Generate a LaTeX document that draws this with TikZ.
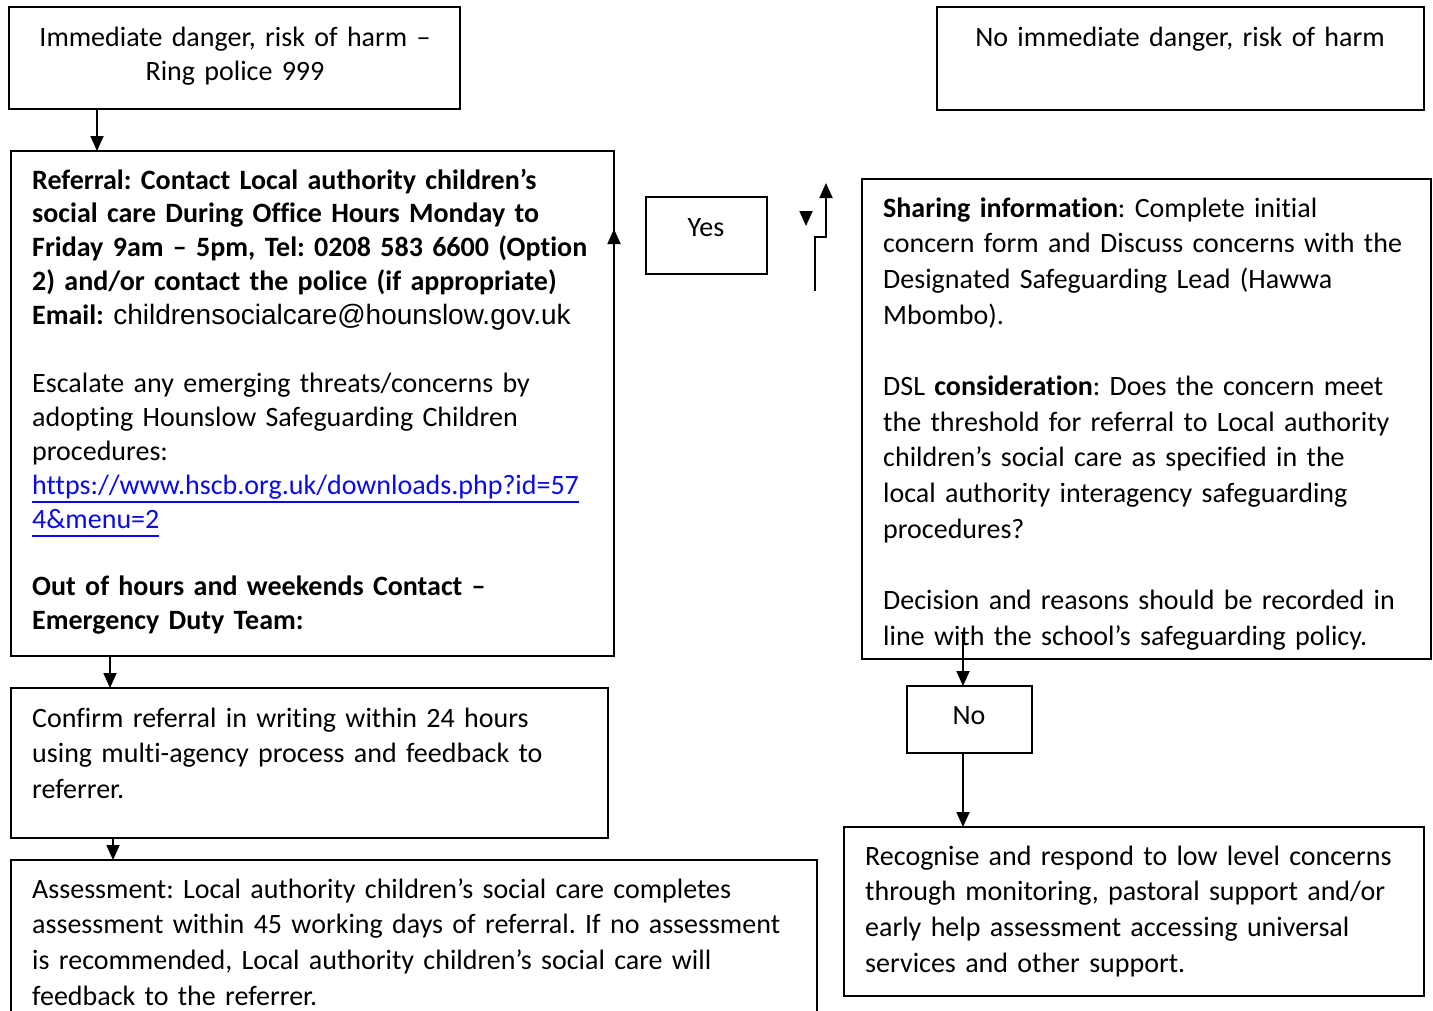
\documentclass[tikz,border=0pt]{standalone}
\usepackage{fontspec}
\setmainfont{Carlito}[Ligatures=NoCommon]
\newfontfamily\emailfont{Liberation Sans}
\usetikzlibrary{arrows.meta}
\definecolor{linkblue}{RGB}{10,10,230}
\newcommand{\linkul}[1]{\setbox0\hbox{#1}\rlap{\rule[-9pt]{\wd0}{1.8pt}}\box0}
\frenchspacing

\begin{document}
\begin{tikzpicture}[x=1pt, y=-1pt,
	box/.style = {draw, line width=1.8pt, outer sep=0pt, inner sep=0pt, anchor=north west},
	txt/.style = {anchor=base west, inner sep=0pt, align=left, font=\fontsize{28}{35.7}\selectfont},
	ctxt/.style = {anchor=base, inner sep=0pt, align=center, font=\fontsize{28}{34.4}\selectfont},
	arr/.style = {line width=1.8pt, -{Triangle[width=13pt, length=15pt]}}]
		\useasboundingbox (0,0) rectangle (1433,1010);
		
		% boxes
		\node [box, minimum width=451pt, minimum height=102pt] (danger) at (9,7) {};
		\node [box, minimum width=487pt, minimum height=103pt] (nodanger) at (937,7) {};
		\node [box, minimum width=603pt, minimum height=505pt] (referral) at (11,151) {};
		\node [box, minimum width=121pt, minimum height=77pt] (yes) at (646,197) {};
		\node [box, minimum width=569pt, minimum height=480pt] (sharing) at (862,179) {};
		\node [box, minimum width=125pt, minimum height=67pt] (no) at (907,686) {};
		\node [box, minimum width=597pt, minimum height=150pt] (confirm) at (11,688) {};
		\node [box, minimum width=806pt, minimum height=170pt] (assess) at (11,860) {};
		\node [box, minimum width=580pt, minimum height=169pt] (recognise) at (844,827) {};
		
		% texts
		\node [ctxt, text width=440pt] (danger-text) at (235,46) {Immediate danger, risk of harm --\\Ring police 999};
		\node [ctxt, text width=480pt] (nodanger-text) at (1180,46) {No immediate danger, risk of harm};
		\node [ctxt, text width=110pt] (yes-text) at (706,236) {Yes};
		\node [ctxt, text width=110pt] (no-text) at (969,724) {No};
		
		\node [txt, text width=590pt, font=\fontsize{28}{33.9}\selectfont] (referral-text) at (32,189) {%
			\textbf{Referral: Contact Local authority children’s}\\
			\textbf{social care During Office Hours Monday to}\\
			\textbf{Friday 9am -- 5pm, Tel: 0208 583 6600 (Option}\\
			\textbf{2) and/or contact the police (if appropriate)}\\
			\textbf{Email:} {\emailfont childrensocialcare@hounslow.gov.uk}\\[33.9pt]
			Escalate any emerging threats/concerns by\\
			adopting Hounslow Safeguarding Children\\
			procedures:\\
			\textcolor{linkblue}{\linkul{https://www.hscb.org.uk/downloads.php?id=57}}\\
			\textcolor{linkblue}{\linkul{4\&menu=2}}\\[33.9pt]
			\textbf{Out of hours and weekends Contact --}\\
			\textbf{Emergency Duty Team:}};
		
		\node [txt, text width=560pt] (sharing-text) at (883,217) {%
			\textbf{Sharing information}: Complete initial\\
			concern form and Discuss concerns with the\\
			Designated Safeguarding Lead (Hawwa\\
			Mbombo).\\[35.7pt]
			DSL \textbf{consideration}: Does the concern meet\\
			the threshold for referral to Local authority\\
			children’s social care as specified in the\\
			local authority interagency safeguarding\\
			procedures?\\[35.7pt]
			Decision and reasons should be recorded in\\
			line with the school’s safeguarding policy.};
		
		\node [txt, text width=580pt] (confirm-text) at (32,727) {%
			Confirm referral in writing within 24 hours\\
			using multi-agency process and feedback to\\
			referrer.};
		
		\node [txt, text width=790pt] (assess-text) at (32,898) {%
			Assessment: Local authority children’s social care completes\\
			assessment within 45 working days of referral. If no assessment\\
			is recommended, Local authority children’s social care will\\
			feedback to the referrer.};
		
		\node [txt, text width=570pt] (recognise-text) at (865,865) {%
			Recognise and respond to low level concerns\\
			through monitoring, pastoral support and/or\\
			early help assessment accessing universal\\
			services and other support.};
		
		% connectors
		\coordinate (left-a) at (97,0);
		\coordinate (left-b) at (110,0);
		\coordinate (left-c) at (113,0);
		\coordinate (right-a) at (963,0);
		\coordinate (up-tail) at (0,300);
		\coordinate (up-tip) at (0,229);
		\coordinate (down-top) at (806,211);
		\coordinate (down-tip) at (806,226);
		\coordinate (step-low) at (815,291);
		\coordinate (step-mid) at (815,237);
		\coordinate (step-tip) at (826,183);
		\coordinate (no-tail) at (963,633);
		
		\draw [arr] (danger.south -| left-a) -- (referral.north -| left-a);
		\draw [arr] (referral.south -| left-b) -- (confirm.north -| left-b);
		\draw [arr] (confirm.south -| left-c) -- (assess.north -| left-c);
		\draw [arr] (referral.east |- up-tail) -- (referral.east |- up-tip);
		\draw [arr] (down-top) -- (down-tip);
		\draw [arr] (step-low) -- (step-mid) -| (step-tip);
		\draw [arr] (no-tail) -- (no.north -| right-a);
		\draw [arr] (no.south -| right-a) -- (recognise.north -| right-a);
	\end{tikzpicture}
\end{document}
